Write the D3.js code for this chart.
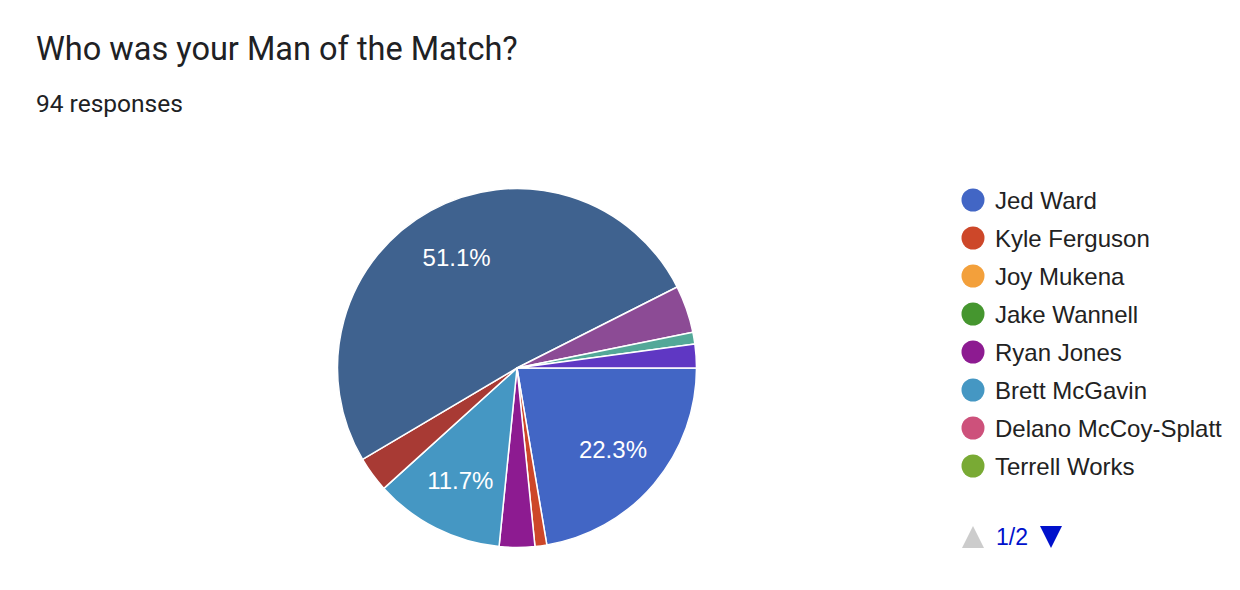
<!DOCTYPE html>
<html><head><meta charset="utf-8">
<script src="https://cdn.jsdelivr.net/npm/d3@7/dist/d3.min.js"></script>
<style>html,body{margin:0;padding:0;background:#fff;}</style>
</head><body>
<svg id="c" width="1240" height="590"></svg>
<script>
// Data (legend page 1 shows first eight; remaining entries are on page 2)
const names = ["Jed Ward","Kyle Ferguson","Joy Mukena","Jake Wannell","Ryan Jones","Brett McGavin","Delano McCoy-Splatt","Terrell Works","Page 2 option 1","Page 2 option 2","Page 2 option 3","Page 2 option 4","Page 2 option 5","Page 2 option 6"];
const counts = [21,1,0,0,3,11,0,0,3,48,4,1,0,2];
const colors = ["#4266c5","#cd4729","#f3a03b","#45962f","#8d1b91","#4597c3","#cd517b","#79aa34","#a83a34","#3f628f","#8c4b95","#53a898","#aaaa11","#5f37c3"];
const legendCount = 8;
const title = "Who was your Man of the Match?";
const subtitle = "94 responses";
const pageLabel = "1/2";

const svg = d3.select("#c");
svg.append("text").attr("x",36).attr("y",60).attr("font-family","Roboto, 'Noto Sans', sans-serif")
  .attr("font-size",32.5).attr("fill","#202124").text(title);
svg.append("text").attr("x",36).attr("y",112).attr("font-family","Roboto, 'Noto Sans', sans-serif")
  .attr("font-size",24.5).attr("fill","#202124").text(subtitle);

const total = d3.sum(counts);
const cx = 517, cy = 368, R = 179.5;
const data = counts.map((v,i)=>({name:names[i], value:v, color:colors[i]}));
const pie = d3.pie().value(d=>d.value).sort(null).startAngle(Math.PI/2).endAngle(Math.PI/2+2*Math.PI);
const arcs = pie(data).filter(a=>a.data.value>0);
const arc = d3.arc().innerRadius(0).outerRadius(R);
const labelArc = d3.arc().innerRadius(R*0.7).outerRadius(R*0.7);
const g = svg.append("g").attr("transform",`translate(${cx},${cy})`);
g.selectAll("path").data(arcs).join("path").attr("d",arc).attr("fill",d=>d.data.color)
  .attr("stroke","#fff").attr("stroke-width",1.5).attr("stroke-linejoin","round");
g.selectAll("text").data(arcs.filter(a=>a.data.value/total>0.05)).join("text")
  .attr("transform",d=>`translate(${labelArc.centroid(d)})`)
  .attr("text-anchor","middle").attr("dy","0.36em")
  .attr("font-family","Arial, 'Liberation Sans', sans-serif").attr("font-size",24).attr("fill","#fff")
  .text(d=>(d.data.value/total*100).toFixed(1)+"%");

// Legend
const ly = d3.scaleLinear().domain([0,1]).range([200,238]);
const lg = svg.append("g");
const items = data.slice(0,legendCount);
lg.selectAll("circle").data(items).join("circle").attr("cx",973).attr("cy",(d,i)=>ly(i)).attr("r",11.5).attr("fill",d=>d.color);
lg.selectAll("text").data(items).join("text").attr("x",995).attr("y",(d,i)=>ly(i)).attr("dy","0.36em")
  .attr("font-family","Arial, 'Liberation Sans', sans-serif").attr("font-size",24).attr("fill","#222").text(d=>d.name);

// Pagination
svg.append("path").attr("d","M962,548 L973,526 L984,548 Z").attr("fill","#cccccc");
svg.append("text").attr("x",996).attr("y",537).attr("dy","0.36em").attr("font-family","Arial, 'Liberation Sans', sans-serif")
  .attr("font-size",23).attr("fill","#0011cc").text(pageLabel);
svg.append("path").attr("d","M1040,526 L1062,526 L1051,548 Z").attr("fill","#0011cc");
</script>
</body></html>
